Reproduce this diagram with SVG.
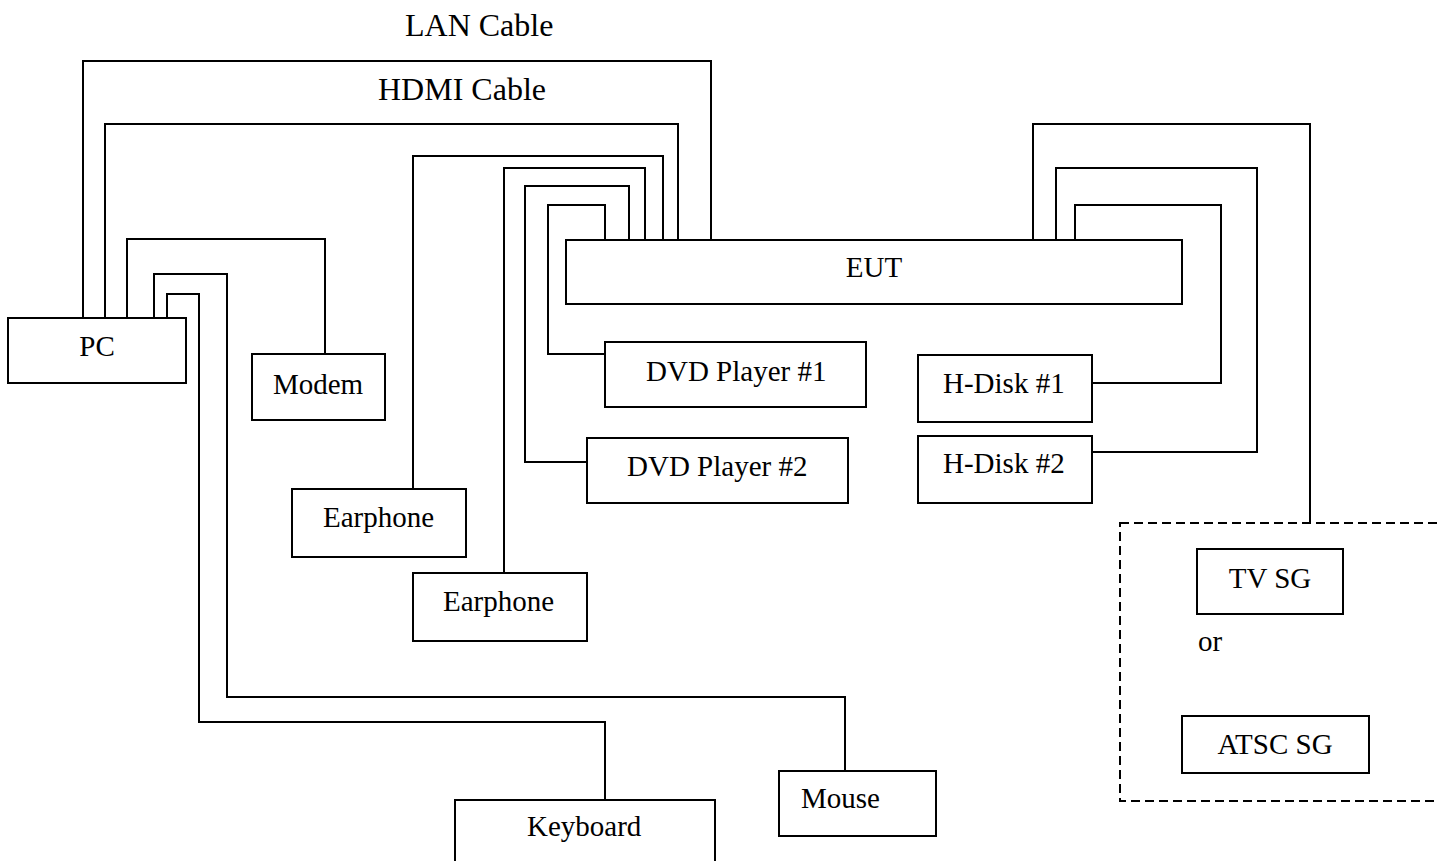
<svg xmlns="http://www.w3.org/2000/svg" width="1438" height="861" viewBox="0 0 1438 861">
<style>
.box{fill:#fff;stroke:#000;stroke-width:2}
.dash{fill:none;stroke:#000;stroke-width:2;stroke-dasharray:9,5}
.wire{fill:none;stroke:#000;stroke-width:2}
text{font-family:"Liberation Serif","Times New Roman",serif;font-size:29px;fill:#000}
.lbl{font-size:32px}
</style>
<rect width="1438" height="861" fill="#fff"/>
<g id="connectors">
<path class="wire" d="M83,318 V61 H711 V240"/>
<path class="wire" d="M105,318 V124 H678 V240"/>
<path class="wire" d="M127,318 V239 H325 V354"/>
<path class="wire" d="M154,318 V274 H227 V697 H845 V771"/>
<path class="wire" d="M167,318 V294 H199 V722 H605 V800"/>
<path class="wire" d="M413,489 V156 H663 V240"/>
<path class="wire" d="M504,573 V168 H645 V240"/>
<path class="wire" d="M587,462 H525 V186 H629 V240"/>
<path class="wire" d="M605,354 H548 V205 H605 V240"/>
<path class="wire" d="M1033,240 V124 H1310 V523"/>
<path class="wire" d="M1056,240 V168 H1257 V452 H1092"/>
<path class="wire" d="M1075,240 V205 H1221 V383 H1092"/>
</g>
<g id="labels">
<text class="lbl" x="405" y="36">LAN Cable</text>
<text class="lbl" x="378" y="100">HDMI Cable</text>
</g>
<g id="pc"><rect class="box" x="8" y="318" width="178" height="65"/><text x="97" y="356" text-anchor="middle">PC</text></g>
<g id="modem"><rect class="box" x="252" y="354" width="133" height="66"/><text x="318" y="394" text-anchor="middle">Modem</text></g>
<g id="eut"><rect class="box" x="566" y="240" width="616" height="64"/><text x="874" y="277" text-anchor="middle">EUT</text></g>
<g id="dvd1"><rect class="box" x="605" y="342" width="261" height="65"/><text x="646" y="381">DVD Player #1</text></g>
<g id="dvd2"><rect class="box" x="587" y="438" width="261" height="65"/><text x="627" y="476">DVD Player #2</text></g>
<g id="earphone1"><rect class="box" x="292" y="489" width="174" height="68"/><text x="323" y="527">Earphone</text></g>
<g id="earphone2"><rect class="box" x="413" y="573" width="174" height="68"/><text x="443" y="611">Earphone</text></g>
<g id="hdisk1"><rect class="box" x="918" y="355" width="174" height="67"/><text x="943" y="393">H-Disk #1</text></g>
<g id="hdisk2"><rect class="box" x="918" y="436" width="174" height="67"/><text x="943" y="473">H-Disk #2</text></g>
<g id="keyboard"><rect class="box" x="455" y="800" width="260" height="80"/><text x="527" y="836">Keyboard</text></g>
<g id="mouse"><rect class="box" x="779" y="771" width="157" height="65"/><text x="801" y="808">Mouse</text></g>
<g id="sg">
<rect class="dash" x="1120" y="523" width="340" height="278"/>
<rect class="box" x="1197" y="549" width="146" height="65"/><text x="1270" y="588" text-anchor="middle">TV SG</text>
<text x="1198" y="651">or</text>
<rect class="box" x="1182" y="716" width="187" height="57"/><text x="1275" y="754" text-anchor="middle">ATSC SG</text>
</g>
</svg>
